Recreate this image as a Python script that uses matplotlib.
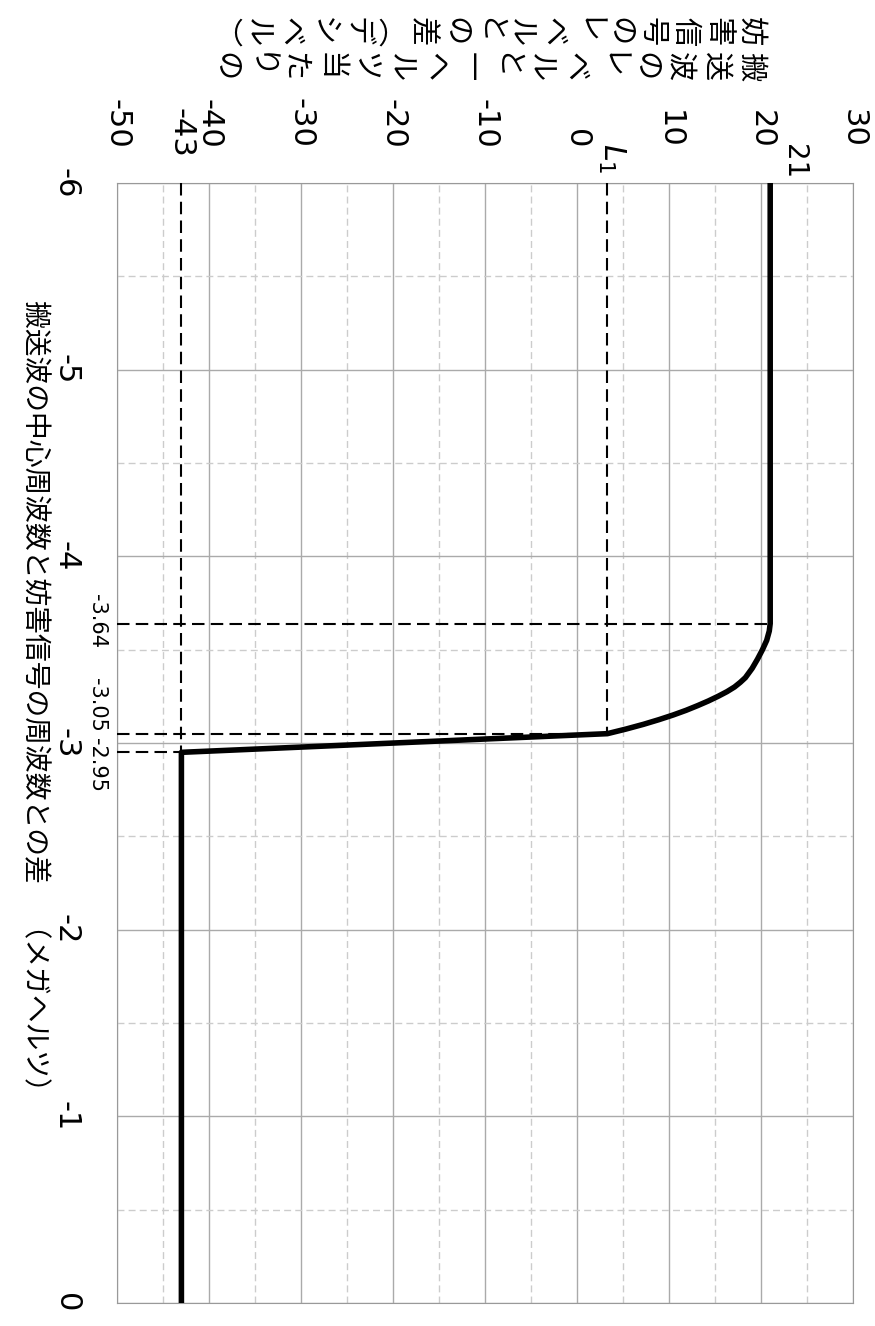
import numpy as np
import matplotlib
matplotlib.use('Agg')
import matplotlib.pyplot as plt
from matplotlib.ticker import MultipleLocator

plt.rcParams['font.family'] = ['DejaVu Sans', 'Noto Sans CJK JP']
plt.rcParams['axes.unicode_minus'] = False

# frequency offset (MHz) and level difference (dB)
freq = [-6.0, -3.64, -3.6, -3.55, -3.5, -3.45, -3.4, -3.35, -3.325, -3.3, -3.275,
        -3.25, -3.225, -3.2, -3.175, -3.15, -3.125, -3.1, -3.075, -3.05, -2.95, 0.0]
level = [21.0, 21.0, 20.9, 20.62, 20.16, 19.63, 19.04, 18.3, 17.75, 17.12, 16.3,
         15.33, 14.27, 13.1, 11.85, 10.45, 8.9, 7.22, 5.35, 3.3, -43.0, -43.0]

L1 = 3.3
edge_freqs = [-3.64, -3.05, -2.95]
edge_levels = [21.0, L1, -43.0]

level_ticks = [-50, -40, -30, -20, -10, 0, 10, 20, 30]
freq_ticks = [-6, -5, -4, -3, -2, -1, 0]

xlabel = '搬送波の中心周波数と妨害信号の周波数との差　（メガヘルツ）'
ylabel_col1 = '搬送波のレベルと一ヘルツ当たりの'
ylabel_col2 = '妨害信号のレベルとの差︵デシベル︶'

cjk = ['Noto Sans CJK JP', 'DejaVu Sans']

W, H = 875, 1326
fig = plt.figure(figsize=(W / 100, H / 100), dpi=100)
# the chart is drawn turned a quarter turn clockwise
ax = fig.add_axes([117 / W, 1 - 1303 / H, (853 - 117) / W, (1303 - 183) / H])

ax.plot(level, freq, color='black', lw=4, solid_joinstyle='round', zorder=5)

dash = (0, (6, 3))
ax.hlines(edge_freqs, -50, edge_levels, colors='black', lw=1.5, linestyles=[dash], zorder=4)
ax.vlines([L1, -43], -6, [-3.05, -2.95], colors='black', lw=1.5, linestyles=[dash], zorder=4)

ax.set_xlim(-50, 30)
ax.set_ylim(0, -6)

ax.set_xticks(level_ticks, [str(v) for v in level_ticks])
ax.set_yticks(freq_ticks, [str(v) for v in freq_ticks])
ax.xaxis.set_minor_locator(MultipleLocator(5))
ax.yaxis.set_minor_locator(MultipleLocator(0.5))
ax.xaxis.tick_top()
ax.tick_params(which='both', length=0)
ax.tick_params(axis='x', pad=25, labelsize=22, labelrotation=-90)
ax.tick_params(axis='y', pad=26, labelsize=22, labelrotation=-90)
for lab in ax.get_yticklabels():
    lab.set_va('center')

ax.grid(which='major', color='#aaaaaa', lw=1, ls='-')
ax.grid(which='minor', color='#cccccc', lw=1, ls=(0, (5, 3)))
ax.set_axisbelow(True)
for sp in ax.spines.values():
    sp.set_color('#999999')

# extra labels for the break points
offs = {-3.64: 3, -3.05: 29, -2.95: -13}
for f in edge_freqs:
    ax.annotate(str(f), xy=(0, f), xycoords=('axes fraction', 'data'),
                xytext=(-10, offs[f]), textcoords='offset pixels',
                rotation=-90, ha='right', va='center', fontsize=15)

ax.annotate('-43', xy=(-43, 1), xycoords=('data', 'axes fraction'),
            xytext=(0, 25), textcoords='offset pixels',
            rotation=-90, ha='center', va='bottom', fontsize=22)
ax.annotate('21', xy=(21, 1), xycoords=('data', 'axes fraction'),
            xytext=(10, 4), textcoords='offset pixels',
            rotation=-90, ha='left', va='bottom', fontsize=20)
ax.annotate(r'$L_1$', xy=(L1, 1), xycoords=('data', 'axes fraction'),
            xytext=(-11, 9), textcoords='offset pixels',
            rotation=-90, ha='left', va='bottom', fontsize=22)

# axis titles
fig.text(35 / W, 1 - 300 / H, xlabel, rotation=-90, ha='center', va='top',
         fontsize=20, family=cjk)

for row_y, chars in [(67, ylabel_col1), (32, ylabel_col2)]:
    xs = np.linspace(750, 224, len(chars))
    for x, ch in zip(xs, chars):
        fig.text(x / W, 1 - row_y / H, ch, rotation=-90, ha='center', va='center',
                 fontsize=21, family=cjk)

fig.savefig('out.png', dpi=100)
